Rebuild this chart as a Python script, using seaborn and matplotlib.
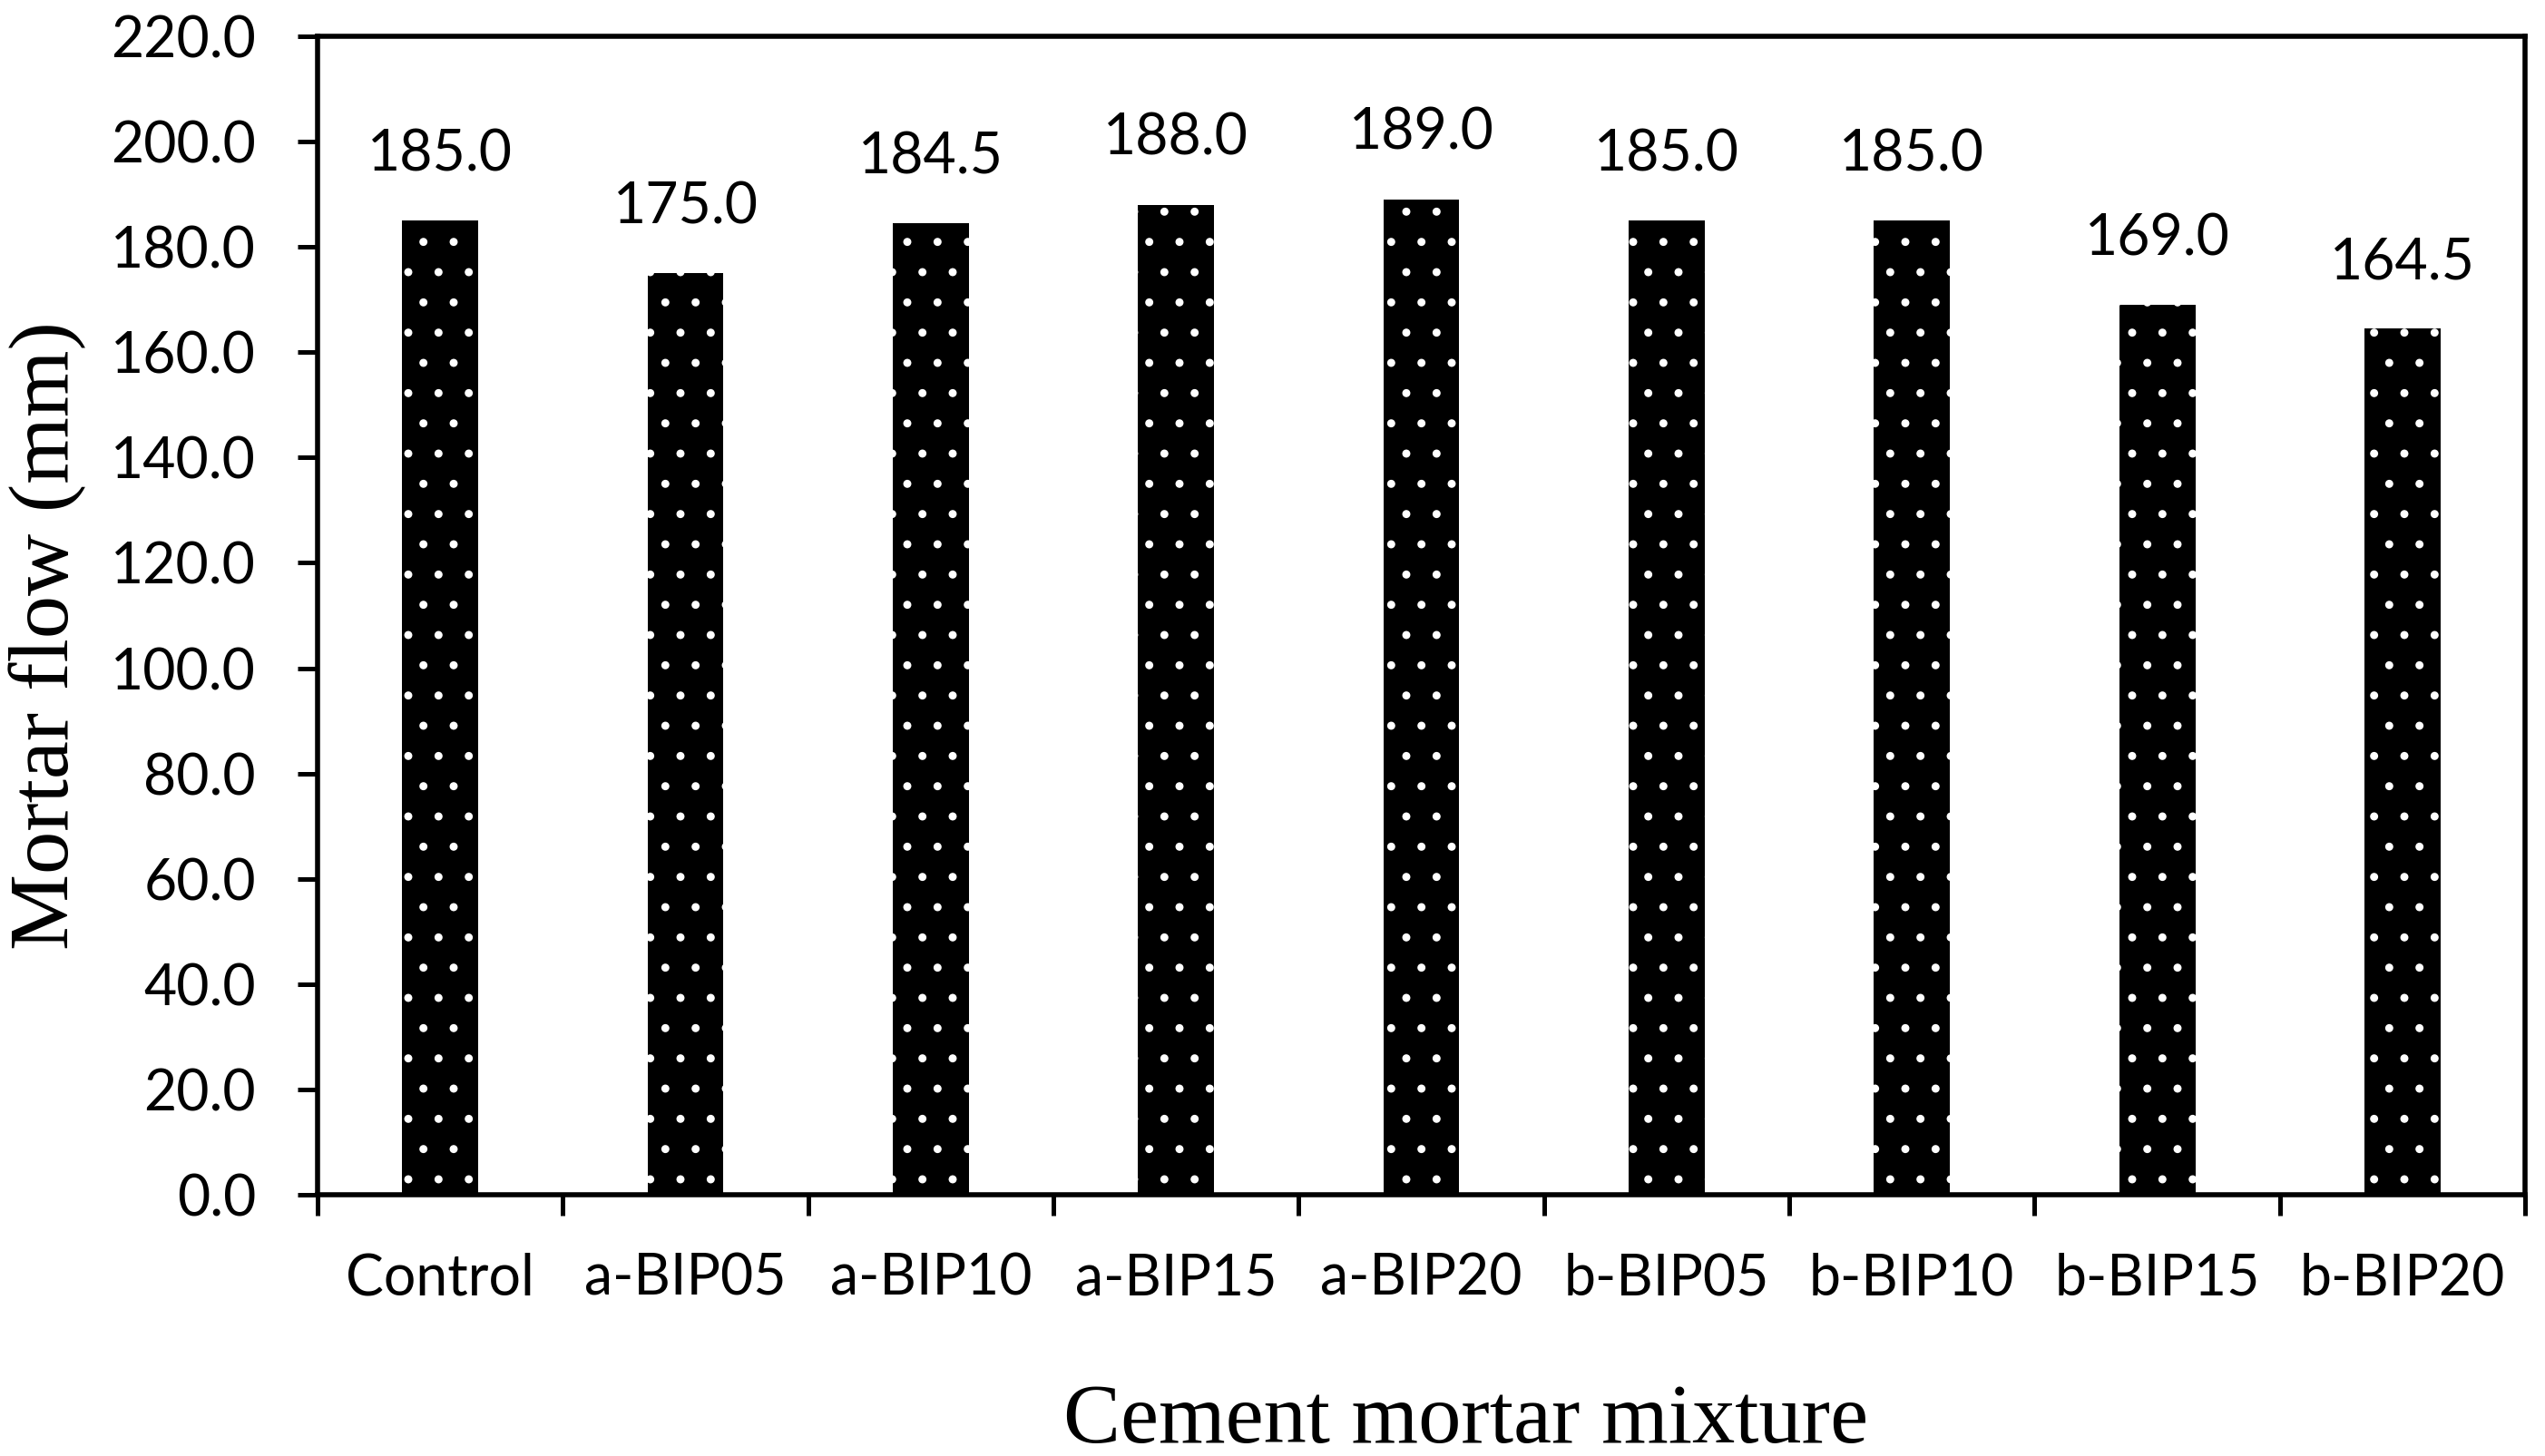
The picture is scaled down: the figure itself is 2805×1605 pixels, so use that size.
import numpy as np
import seaborn as sns
import matplotlib.pyplot as plt

# Data
mixtures = ["Control", "a-BIP05", "a-BIP10", "a-BIP15", "a-BIP20",
            "b-BIP05", "b-BIP10", "b-BIP15", "b-BIP20"]
mortar_flow = [185.0, 175.0, 184.5, 188.0, 189.0, 185.0, 185.0, 169.0, 164.5]
y_ticks = [0, 20, 40, 60, 80, 100, 120, 140, 160, 180, 200, 220]

sns.set_style("white")
plt.rcParams["font.family"] = ["Lato", "DejaVu Sans"]
plt.rcParams["text.color"] = "black"
plt.rcParams["axes.labelcolor"] = "black"
plt.rcParams["hatch.color"] = "white"
plt.rcParams["hatch.linewidth"] = 0.8

fig = plt.figure(figsize=(14.025, 8.025), dpi=200)
ax = fig.add_axes([0.1248, 0.1794, 0.8674, 0.7957])

# Bars with white dotted hatch
sns.barplot(x=mixtures, y=mortar_flow, color="black", saturation=1,
            width=0.31, edgecolor="white", linewidth=0, hatch=".", ax=ax)

# Value labels above bars
for i, v in enumerate(mortar_flow):
    ax.annotate(f"{v:.1f}", xy=(i, v), xytext=(0, 19.8),
                textcoords="offset points", ha="center", va="baseline",
                fontsize=22.5, color="black")

# Axes limits and ticks
ax.set_ylim(0, 220)
ax.set_xlim(-0.5, len(mixtures) - 0.5)
ax.set_yticks(y_ticks)
ax.set_yticklabels([f"{t:.1f}" for t in y_ticks], fontsize=22.5)

ax.set_xticks(np.arange(len(mixtures) + 1) - 0.5)
ax.set_xticklabels([])
ax.set_xticks(np.arange(len(mixtures)), minor=True)
ax.set_xticklabels(mixtures, minor=True, fontsize=22.5)

ax.tick_params(axis="y", which="major", direction="out", length=8, width=1.8,
               pad=16.5, left=True, color="black", labelcolor="black")
ax.tick_params(axis="x", which="major", direction="out", length=8.3, width=1.8,
               bottom=True, color="black")
ax.tick_params(axis="x", which="minor", length=0, pad=23, labelcolor="black")

for side in ["left", "right", "top", "bottom"]:
    ax.spines[side].set_visible(True)
    ax.spines[side].set_color("black")
    ax.spines[side].set_linewidth(2)

# Axis labels
ax.set_xlabel("Cement mortar mixture", fontsize=34, color="black",
              family=["Liberation Serif", "DejaVu Serif"])
ax.set_ylabel("Mortar flow (mm)", fontsize=34, color="black",
              family=["Liberation Serif", "DejaVu Serif"])
ax.xaxis.set_label_coords(0.52, -0.2138)
ax.xaxis.label.set_verticalalignment("baseline")
ax.yaxis.set_label_coords(-0.113, 0.483)
ax.yaxis.label.set_verticalalignment("baseline")

ax.grid(False)

plt.savefig("out.png", dpi=200)
